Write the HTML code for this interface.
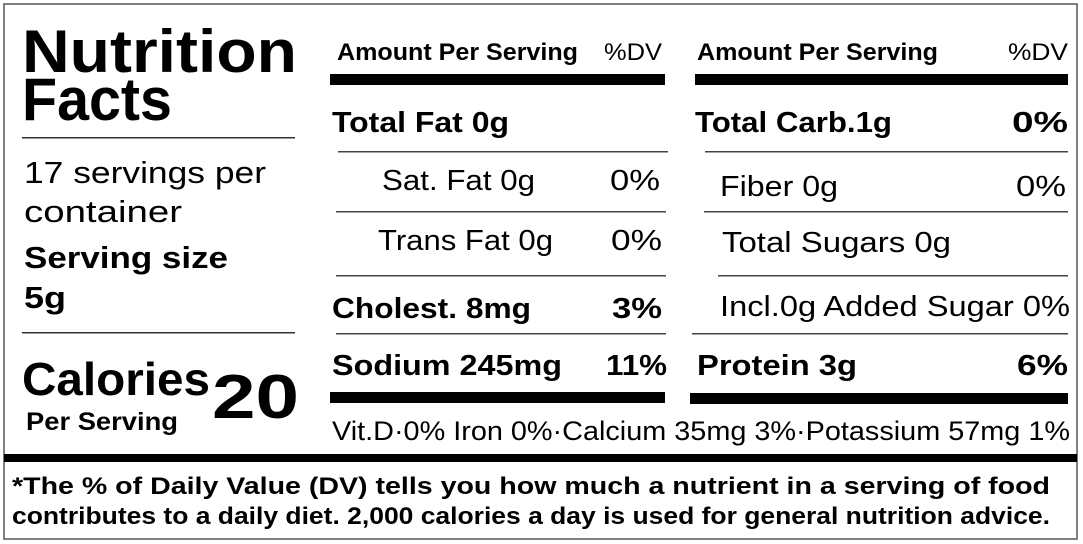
<!DOCTYPE html>
<html><head><meta charset="utf-8"><style>
html,body{margin:0;padding:0;background:#fff;}
svg{display:block;}
text{font-family:"Liberation Sans",sans-serif;fill:#000;}
.b{font-weight:bold;}
</style></head><body>
<svg width="1083" height="544" viewBox="0 0 1083 544" xmlns="http://www.w3.org/2000/svg">
<rect x="4" y="4" width="1073" height="535" fill="#fff" stroke="#555" stroke-width="1.5"/>
<g>
<text class="b" x="22" y="72" font-size="60" textLength="275" lengthAdjust="spacingAndGlyphs">Nutrition</text>
<text class="b" x="22" y="120" font-size="60" textLength="150" lengthAdjust="spacingAndGlyphs">Facts</text>
<text x="24" y="183" font-size="31" textLength="242" lengthAdjust="spacingAndGlyphs">17 servings per</text>
<text x="24" y="222" font-size="31" textLength="158" lengthAdjust="spacingAndGlyphs">container</text>
<text class="b" x="24" y="268" font-size="31" textLength="204" lengthAdjust="spacingAndGlyphs">Serving size</text>
<text class="b" x="24" y="308" font-size="31" textLength="42" lengthAdjust="spacingAndGlyphs">5g</text>
<text class="b" x="22" y="395" font-size="46" textLength="188" lengthAdjust="spacingAndGlyphs">Calories</text>
<text class="b" x="212" y="418" font-size="62" textLength="87" lengthAdjust="spacingAndGlyphs">20</text>
<text class="b" x="26" y="430" font-size="25" textLength="152" lengthAdjust="spacingAndGlyphs">Per Serving</text>

<text class="b" x="337" y="60" font-size="24" textLength="241" lengthAdjust="spacingAndGlyphs">Amount Per Serving</text>
<text x="604" y="60" font-size="24" textLength="58" lengthAdjust="spacingAndGlyphs">%DV</text>
<text class="b" x="332" y="132" font-size="29" textLength="177" lengthAdjust="spacingAndGlyphs">Total Fat 0g</text>
<text x="382" y="190" font-size="29" textLength="153" lengthAdjust="spacingAndGlyphs">Sat. Fat 0g</text>
<text x="610" y="190" font-size="29" textLength="50" lengthAdjust="spacingAndGlyphs">0%</text>
<text x="378" y="250" font-size="29" textLength="175" lengthAdjust="spacingAndGlyphs">Trans Fat 0g</text>
<text x="611" y="250" font-size="29" textLength="51" lengthAdjust="spacingAndGlyphs">0%</text>
<text class="b" x="332" y="318" font-size="29" textLength="199" lengthAdjust="spacingAndGlyphs">Cholest. 8mg</text>
<text class="b" x="612" y="318" font-size="29" textLength="50" lengthAdjust="spacingAndGlyphs">3%</text>
<text class="b" x="332" y="375" font-size="29" textLength="230" lengthAdjust="spacingAndGlyphs">Sodium 245mg</text>
<text class="b" x="606" y="375" font-size="29" textLength="61" lengthAdjust="spacingAndGlyphs">11%</text>

<text class="b" x="697" y="60" font-size="24" textLength="241" lengthAdjust="spacingAndGlyphs">Amount Per Serving</text>
<text x="1008" y="60" font-size="24" textLength="60" lengthAdjust="spacingAndGlyphs">%DV</text>
<text class="b" x="695" y="132" font-size="29" textLength="197" lengthAdjust="spacingAndGlyphs">Total Carb.1g</text>
<text class="b" x="1012" y="132" font-size="29" textLength="56" lengthAdjust="spacingAndGlyphs">0%</text>
<text x="720" y="196" font-size="29" textLength="118" lengthAdjust="spacingAndGlyphs">Fiber 0g</text>
<text x="1016" y="196" font-size="29" textLength="50" lengthAdjust="spacingAndGlyphs">0%</text>
<text x="722" y="252" font-size="29" textLength="229" lengthAdjust="spacingAndGlyphs">Total Sugars  0g</text>
<text x="720" y="316" font-size="29" textLength="350" lengthAdjust="spacingAndGlyphs">Incl.0g Added Sugar 0%</text>
<text class="b" x="697" y="375" font-size="29" textLength="160" lengthAdjust="spacingAndGlyphs">Protein  3g</text>
<text class="b" x="1017" y="375" font-size="29" textLength="51" lengthAdjust="spacingAndGlyphs">6%</text>

<text x="332" y="440" font-size="27" textLength="738" lengthAdjust="spacingAndGlyphs">Vit.D·0% Iron 0%·Calcium 35mg 3%·Potassium 57mg 1%</text>
<text class="b" x="12" y="494" font-size="24" textLength="1038" lengthAdjust="spacingAndGlyphs">*The % of Daily Value (DV) tells you how much a nutrient in a serving of food</text>
<text class="b" x="12" y="524" font-size="24" textLength="1038" lengthAdjust="spacingAndGlyphs">contributes to a daily diet. 2,000 calories a day is used for general nutrition advice.</text>
</g>
<g fill="#000">
<rect x="22" y="137" width="273" height="1.5" fill="#333"/>
<rect x="22" y="332" width="273" height="1.5" fill="#333"/>
<rect x="330" y="74" width="335" height="11"/>
<rect x="695" y="74" width="373" height="11"/>
<rect x="338" y="151" width="330" height="1.5" fill="#444"/>
<rect x="336" y="211" width="330" height="1.5" fill="#444"/>
<rect x="336" y="275" width="330" height="1.5" fill="#444"/>
<rect x="336" y="333" width="330" height="1.5" fill="#444"/>
<rect x="330" y="392" width="335" height="11"/>
<rect x="705" y="151" width="363" height="1.5" fill="#444"/>
<rect x="704" y="211" width="364" height="1.5" fill="#444"/>
<rect x="718" y="275" width="350" height="1.5" fill="#444"/>
<rect x="692" y="333" width="376" height="1.5" fill="#444"/>
<rect x="690" y="393" width="378" height="11"/>
<rect x="4" y="454" width="1073" height="8"/>
</g>
</svg>
</body></html>
